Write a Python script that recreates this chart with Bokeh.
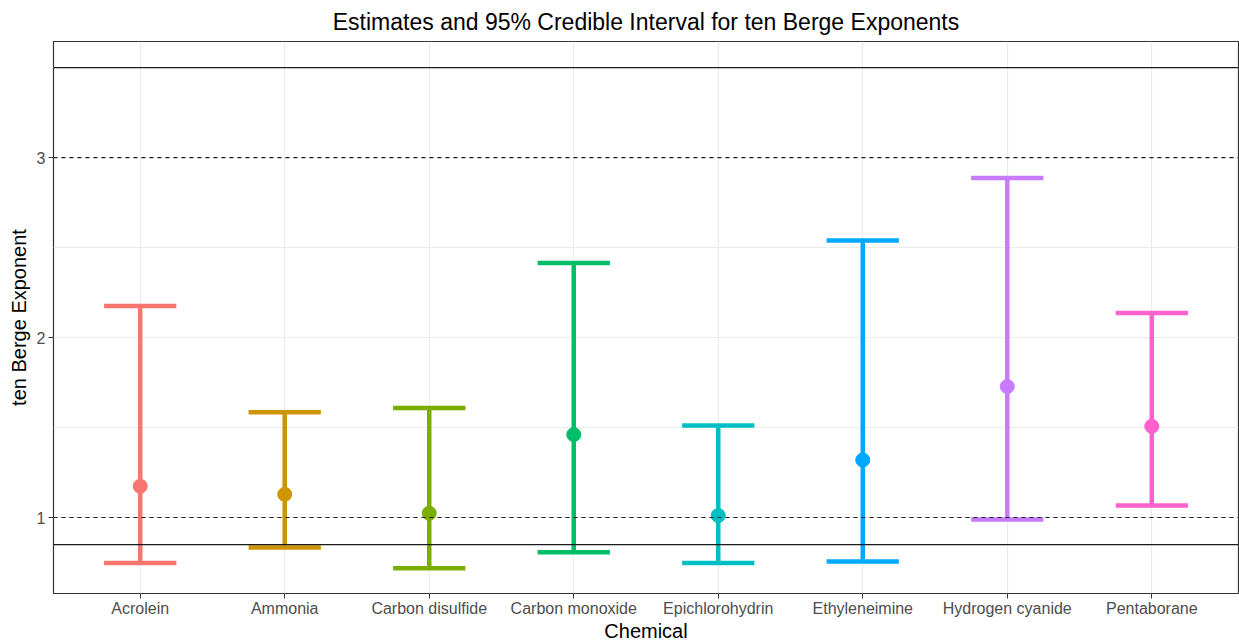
from bokeh.plotting import figure
from bokeh.models import Range1d, FixedTicker, Span, ColumnDataSource
from bokeh.embed import file_html
from bokeh.resources import INLINE

# Posterior summaries of the ten Berge exponent per chemical
chemicals = ["Acrolein", "Ammonia", "Carbon disulfide", "Carbon monoxide",
             "Epichlorohydrin", "Ethyleneimine", "Hydrogen cyanide", "Pentaborane"]
estimate = [1.174, 1.129, 1.024, 1.461, 1.011, 1.320, 1.728, 1.507]
lower = [0.748, 0.833, 0.718, 0.807, 0.748, 0.756, 0.989, 1.067]
upper = [2.176, 1.585, 1.609, 2.415, 1.511, 2.539, 2.887, 2.137]

# Reference levels
solid_refs = [0.85, 3.5]
dashed_refs = [1, 3]

# ggplot-style hue palette
colors = ["#F8766D", "#CD9600", "#7CAE00", "#00BE67",
          "#00BFC4", "#00A9FF", "#C77CFF", "#FF61CC"]

FONT = "Liberation Sans"
cap_half = 0.25

xs = list(range(1, len(chemicals) + 1))
src = ColumnDataSource(dict(
    x=xs, est=estimate, lo=lower, hi=upper, color=colors,
    x0=[x - cap_half for x in xs], x1=[x + cap_half for x in xs],
))

p = figure(width=1239, height=644, output_backend="svg", toolbar_location=None,
           x_range=Range1d(0.4, 8.6), y_range=Range1d(0.578, 3.645),
           min_border_left=53, min_border_right=1, min_border_top=41,
           min_border_bottom=51,
           title="Estimates and 95% Credible Interval for ten Berge Exponents")

p.background_fill_color = "white"
p.border_fill_color = "white"
p.outline_line_color = "#333333"
p.outline_line_width = 1.2

p.title.text_font = FONT
p.title.text_font_size = "23px"
p.title.text_font_style = "normal"
p.title.text_color = "black"
p.title.align = "center"
p.title.standoff = 13

# Axes
p.xaxis.ticker = FixedTicker(ticks=xs)
p.xaxis.major_label_overrides = {x: c for x, c in zip(xs, chemicals)}
p.yaxis.ticker = FixedTicker(ticks=[1, 2, 3], minor_ticks=[1.5, 2.5, 3.5])
p.xaxis.axis_label = "Chemical"
p.yaxis.axis_label = "ten Berge Exponent"
for ax in (p.xaxis[0], p.yaxis[0]):
    ax.axis_line_color = None
    ax.major_tick_line_color = "#333333"
    ax.major_tick_out = 5
    ax.major_tick_in = 0
    ax.minor_tick_line_color = None
    ax.major_label_text_font = FONT
    ax.major_label_text_font_size = "16px"
    ax.major_label_text_color = "#4d4d4d"
    ax.axis_label_text_font = FONT
    ax.axis_label_text_font_size = "20px"
    ax.axis_label_text_font_style = "normal"
    ax.axis_label_text_color = "black"
p.yaxis.major_label_standoff = 3
p.yaxis.axis_label_standoff = 4
p.xaxis.major_label_standoff = 1
p.xaxis.axis_label_standoff = 0

# Grid
p.xgrid.grid_line_color = "#ebebeb"
p.xgrid.grid_line_width = 1.2
p.ygrid.grid_line_color = "#ebebeb"
p.ygrid.grid_line_width = 1.2
p.ygrid.minor_grid_line_color = "#ebebeb"
p.ygrid.minor_grid_line_width = 1.0

# Error bars: stems, caps and point estimates
p.segment(x0="x", y0="lo", x1="x", y1="hi", source=src, line_color="color",
          line_width=4.5, line_cap="butt")
p.segment(x0="x0", y0="hi", x1="x1", y1="hi", source=src, line_color="color",
          line_width=4.5, line_cap="butt")
p.segment(x0="x0", y0="lo", x1="x1", y1="lo", source=src, line_color="color",
          line_width=4.5, line_cap="butt")
p.scatter(x="x", y="est", source=src, size=14, fill_color="color",
          line_color="color", line_width=1)

# Horizontal reference lines
for v in solid_refs:
    p.add_layout(Span(location=v, dimension="width", line_color="#1a1a1a",
                      line_width=1.3))
for v in dashed_refs:
    p.add_layout(Span(location=v, dimension="width", line_color="#1a1a1a",
                      line_width=1.1, line_dash="4 4"))

open("out.html", "w").write(file_html(p, INLINE))
